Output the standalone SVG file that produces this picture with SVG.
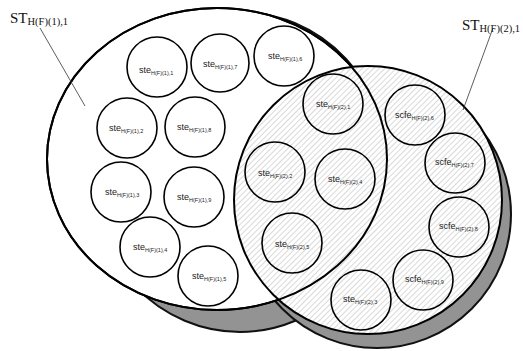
<svg xmlns="http://www.w3.org/2000/svg" width="523" height="351" viewBox="0 0 523 351">
<style>
.big{stroke:#000;stroke-width:2}
.shadow{fill:#939393;stroke:#111;stroke-width:2}
.sm{stroke:#000;stroke-width:1.6}
.w{fill:#fff}
.h{fill:none}
.lab{font-family:"Liberation Sans",Arial,sans-serif;font-size:9px;fill:#222}
.sub{font-size:5.5px}
.st{font-family:"Liberation Serif","Times New Roman",serif;font-size:15px;fill:#111}
.stsub{font-size:10.5px}
.lead{stroke:#333;stroke-width:0.8;fill:none}
</style>
<defs>
<pattern id="hatch" patternUnits="userSpaceOnUse" width="4" height="4" patternTransform="rotate(45)">
<rect width="4" height="4" fill="#fff"/>
<line x1="0" y1="0" x2="0" y2="4" stroke="#b4b4b4" stroke-width="1"/>
</pattern>
</defs>
<rect width="523" height="351" fill="#fff"/>
<g id="shadows">
<ellipse class="shadow" cx="240" cy="172" rx="150" ry="160"/>
<circle class="shadow" cx="377" cy="214" r="134"/>
</g>
<g id="set1">
<ellipse class="big w" cx="217" cy="159" rx="170" ry="151"/>
</g>
<g id="set2">
<circle class="big" cx="368" cy="200" r="134" fill="url(#hatch)"/>
</g>
<ellipse class="big" cx="217" cy="159" rx="170" ry="151" fill="none"/>
<g id="connectors">
<line class="lead" x1="40" y1="28" x2="85" y2="106"/>
<line class="lead" x1="493" y1="28" x2="463" y2="110"/>
</g>
<g id="label-st1"><text class="st" x="10" y="23">ST<tspan class="stsub" dy="2">H(F)(1),1</tspan></text></g>
<g id="label-st2"><text class="st" x="462" y="30">ST<tspan class="stsub" dy="2">H(F)(2),1</tspan></text></g>
<g id="n11"><circle class="sm w" cx="157" cy="67" r="30"/><text class="lab" x="139" y="73">ste<tspan class="sub" dy="1.5">H(F)(1),1</tspan></text></g>
<g id="n17"><circle class="sm w" cx="220" cy="63" r="29"/><text class="lab" x="203" y="67">ste<tspan class="sub" dy="1.5">H(F)(1),7</tspan></text></g>
<g id="n16"><circle class="sm w" cx="284" cy="56" r="30"/><text class="lab" x="268" y="59">ste<tspan class="sub" dy="1.5">H(F)(1),6</tspan></text></g>
<g id="n12"><circle class="sm w" cx="127" cy="128" r="30"/><text class="lab" x="109" y="131">ste<tspan class="sub" dy="1.5">H(F)(1),2</tspan></text></g>
<g id="n18"><circle class="sm w" cx="195" cy="127" r="30"/><text class="lab" x="177" y="130">ste<tspan class="sub" dy="1.5">H(F)(1),8</tspan></text></g>
<g id="n13"><circle class="sm w" cx="121" cy="192" r="30"/><text class="lab" x="105" y="195">ste<tspan class="sub" dy="1.5">H(F)(1),3</tspan></text></g>
<g id="n19"><circle class="sm w" cx="194" cy="197" r="30"/><text class="lab" x="177" y="200">ste<tspan class="sub" dy="1.5">H(F)(1),9</tspan></text></g>
<g id="n14"><circle class="sm w" cx="150" cy="247" r="30"/><text class="lab" x="133" y="250">ste<tspan class="sub" dy="1.5">H(F)(1),4</tspan></text></g>
<g id="n15"><circle class="sm w" cx="208" cy="276" r="30"/><text class="lab" x="192" y="279">ste<tspan class="sub" dy="1.5">H(F)(1),5</tspan></text></g>
<g id="n21"><circle class="sm h" cx="333" cy="104" r="30"/><text class="lab" x="316" y="107">ste<tspan class="sub" dy="1.5">H(F)(2),1</tspan></text></g>
<g id="n22"><circle class="sm h" cx="275" cy="172" r="30"/><text class="lab" x="258" y="176">ste<tspan class="sub" dy="1.5">H(F)(2),2</tspan></text></g>
<g id="n24"><circle class="sm h" cx="345" cy="179" r="30"/><text class="lab" x="328" y="182">ste<tspan class="sub" dy="1.5">H(F)(2),4</tspan></text></g>
<g id="n25"><circle class="sm h" cx="292" cy="243" r="30"/><text class="lab" x="275" y="247">ste<tspan class="sub" dy="1.5">H(F)(2),5</tspan></text></g>
<g id="n23"><circle class="sm h" cx="361" cy="300" r="30"/><text class="lab" x="343" y="302">ste<tspan class="sub" dy="1.5">H(F)(2),3</tspan></text></g>
<g id="n26"><circle class="sm h" cx="415" cy="115" r="30"/><text class="lab" x="395" y="118">scfe<tspan class="sub" dy="1.5">H(F)(2),6</tspan></text></g>
<g id="n27"><circle class="sm h" cx="455" cy="163" r="30"/><text class="lab" x="435" y="165">scfe<tspan class="sub" dy="1.5">H(F)(2),7</tspan></text></g>
<g id="n28"><circle class="sm h" cx="459" cy="227" r="30"/><text class="lab" x="439" y="229">scfe<tspan class="sub" dy="1.5">H(F)(2),8</tspan></text></g>
<g id="n29"><circle class="sm h" cx="423" cy="280" r="30"/><text class="lab" x="405" y="282">scfe<tspan class="sub" dy="1.5">H(F)(2),9</tspan></text></g>
</svg>
